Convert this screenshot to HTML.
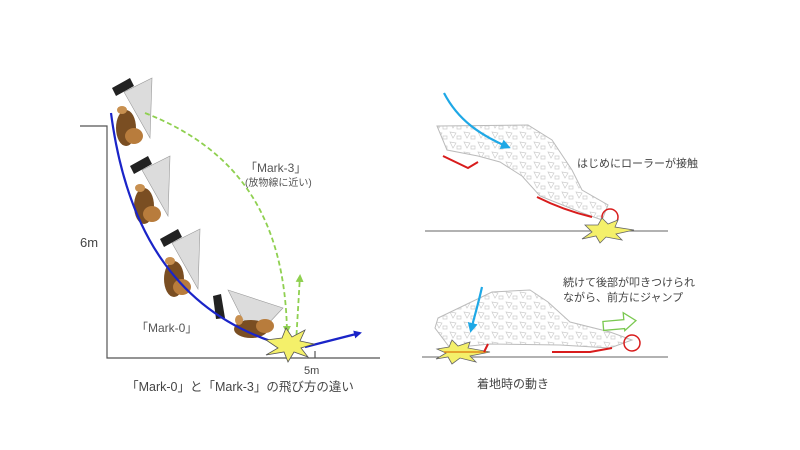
<!DOCTYPE html>
<html><head><meta charset="utf-8"><style>
body{margin:0;background:#fff;}
svg{display:block;font-family:"Liberation Sans","Noto Sans CJK JP",sans-serif;}
</style></head><body>
<svg width="800" height="450" viewBox="0 0 800 450">
<defs>
<marker id="ab" markerWidth="8" markerHeight="8" refX="6" refY="4" orient="auto" markerUnits="userSpaceOnUse"><path d="M0,0 L8,4 L0,8 z" fill="#1a24c8"/></marker>
<marker id="ag" markerWidth="8" markerHeight="8" refX="6" refY="4" orient="auto" markerUnits="userSpaceOnUse"><path d="M0,0 L8,4 L0,8 z" fill="#8fd050"/></marker>
<marker id="ac" markerWidth="10" markerHeight="10" refX="7" refY="5" orient="auto" markerUnits="userSpaceOnUse"><path d="M0,0 L10,5 L0,10 z" fill="#1ea8e6"/></marker>
<g id="bot">
<polygon points="0,2 18,-8 22,0 4,10" fill="#222"/>
<polygon points="12,6 40,-8 38,52" fill="#dcdcdc" stroke="#999" stroke-width="0.6"/>
<ellipse cx="14" cy="42" rx="10" ry="18" fill="#7a4e22"/>
<ellipse cx="22" cy="50" rx="9" ry="8" fill="#b87c3c"/>
<ellipse cx="10" cy="24" rx="5" ry="4" fill="#c89050"/>
</g>
<pattern id="holes" width="14" height="10" patternUnits="userSpaceOnUse">
<path d="M2,2 l6,1 l-3,5z M9,6 h4 v3 h-4z" fill="none" stroke="#ccc" stroke-width="0.7"/>
</pattern>
</defs>
<g stroke="#555" stroke-width="1.2" fill="none">
<polyline points="80,126 107,126 107,358 380,358"/>
<line x1="315" y1="351" x2="315" y2="358"/>
</g>
<text x="80" y="247" font-size="13" fill="#444">6m</text>
<text x="304" y="374" font-size="11" fill="#444">5m</text>
<text x="240" y="391" font-size="12.5" fill="#444" text-anchor="middle">「Mark-0」と「Mark-3」の飛び方の違い</text>
<use href="#bot" x="112" y="86"/>
<use href="#bot" x="130" y="164"/>
<use href="#bot" x="160" y="237"/>
<g transform="translate(213,294)">
<polygon points="0,2 8,0 12,24 3,25" fill="#222"/>
<polygon points="15,-4 70,14 55,30 30,26" fill="#dcdcdc" stroke="#999" stroke-width="0.6"/>
<ellipse cx="38" cy="35" rx="17" ry="9" fill="#7a4e22"/>
<ellipse cx="52" cy="32" rx="9" ry="7" fill="#b87c3c"/>
<ellipse cx="26" cy="26" rx="4" ry="5" fill="#c89050"/>
</g>
<path d="M111,113 C125,220 170,315 290,347" stroke="#1a24c8" stroke-width="2.2" fill="none" marker-end="url(#ab)"/>
<path d="M305,347 L360,333" stroke="#1a24c8" stroke-width="2.2" fill="none" marker-end="url(#ab)"/>
<path d="M145,113 C240,150 285,220 287,332" stroke="#8fd050" stroke-width="1.8" stroke-dasharray="5,3" fill="none" marker-end="url(#ag)"/>
<path d="M296,343 L300,276" stroke="#8fd050" stroke-width="1.8" stroke-dasharray="5,3" fill="none" marker-end="url(#ag)"/>
<polygon points="266,340 282,338 286,328 292,337 305,330 300,341 314,344 301,348 308,357 294,352 288,362 284,352 266,355 278,348" fill="#f4f06a" stroke="#555" stroke-width="0.8"/>
<text x="245" y="172" font-size="12" fill="#555">「Mark-3」</text>
<text x="245" y="186" font-size="10" fill="#555">(放物線に近い)</text>
<text x="136" y="332" font-size="12" fill="#555">「Mark-0」</text>
<!-- right top -->
<line x1="425" y1="231" x2="668" y2="231" stroke="#666" stroke-width="1"/>
<polygon points="437,126 528,125 552,140 572,170 582,190 608,205 602,220 580,212 540,196 522,176 500,162 478,156 447,150" fill="url(#holes)" stroke="#bbb" stroke-width="1"/>
<path d="M444,93 C458,120 480,135 508,147" stroke="#1ea8e6" stroke-width="2.2" fill="none" marker-end="url(#ac)"/>
<path d="M443,156 L468,168 L478,162" stroke="#d81c1c" stroke-width="2" fill="none"/>
<path d="M537,197 C555,206 575,213 592,217" stroke="#d81c1c" stroke-width="2" fill="none"/>
<circle cx="610" cy="217" r="8" fill="none" stroke="#d81c1c" stroke-width="1.5"/>
<polygon points="585,225 598,225 602,218 608,224 618,220 615,227 634,230 616,234 622,240 606,237 600,243 596,236 582,239 592,232" fill="#f4f06a" stroke="#666" stroke-width="0.8"/>
<text x="577" y="167" font-size="11" fill="#444">はじめにローラーが接触</text>
<!-- right bottom -->
<line x1="422" y1="357" x2="668" y2="357" stroke="#666" stroke-width="1"/>
<polygon points="435,328 438,318 492,292 530,290 548,302 570,322 610,332 632,340 610,348 560,345 490,344 450,348" fill="url(#holes)" stroke="#bbb" stroke-width="1"/>
<path d="M482,287 C478,305 474,318 471,330" stroke="#1ea8e6" stroke-width="2.2" fill="none" marker-end="url(#ac)"/>
<polygon points="437,349 449,347 452,340 458,346 470,342 468,348 490,352 470,356 476,362 460,358 452,364 448,357 436,359 446,353" fill="#f4f06a" stroke="#666" stroke-width="0.8"/>
<line x1="444" y1="352" x2="486" y2="352" stroke="#e08a1a" stroke-width="1.5"/>
<path d="M488,344 L484,352" stroke="#d81c1c" stroke-width="2"/>
<path d="M552,352 L590,352 L612,348" stroke="#d81c1c" stroke-width="2" fill="none"/>
<circle cx="632" cy="343" r="8" fill="none" stroke="#d81c1c" stroke-width="1.5"/>
<polygon points="603,320 624,320 624,313 636,322 624,331 624,329 603,329" fill="#fff" stroke="#7ac850" stroke-width="1.3" transform="rotate(-5 620 322)"/>
<text x="563" y="286" font-size="11" fill="#444">続けて後部が叩きつけられ</text>
<text x="563" y="301" font-size="11" fill="#444">ながら、前方にジャンプ</text>
<text x="513" y="388" font-size="12" fill="#444" text-anchor="middle">着地時の動き</text>
</svg>
</body></html>
